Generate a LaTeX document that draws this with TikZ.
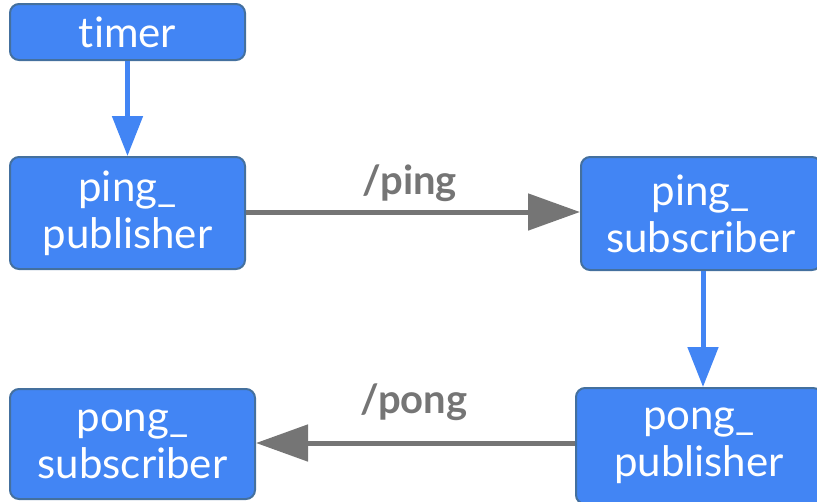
\documentclass[tikz,border=0pt]{standalone}
\usepackage{fontspec}
\setmainfont[Ligatures={NoCommon}]{Lato}
\usetikzlibrary{arrows.meta}
\definecolor{boxfill}{HTML}{4285F4}
\definecolor{boxline}{HTML}{44709E}
\definecolor{topicgray}{HTML}{757575}
\begin{document}
\begin{tikzpicture}[x=1pt,y=-1pt,
  nodebox/.style={draw=boxline, line width=2pt, fill=boxfill, rounded corners=9pt, text=white,
    font=\fontsize{42}{47}\selectfont, align=center, inner sep=0pt},
  bluearrow/.style={draw=boxfill, line width=5pt, -{Triangle[length=40pt,width=30pt]}},
  grayarrow/.style={draw=topicgray, line width=5pt, -{Triangle[length=52pt,width=36pt]}},
  topic/.style={text=topicgray, font=\bfseries\fontsize{40}{44}\selectfont, inner sep=0pt, anchor=base}]
\useasboundingbox (0,0) rectangle (817,501);
\clip (0,0) rectangle (817,501);
\node[nodebox, minimum width=235pt, minimum height=56pt] (timer) at (127.5,32) {timer};
\node[nodebox, minimum width=235pt, minimum height=112pt] (pingpub) at (127.5,213) {ping\_\\publisher};
\node[nodebox, minimum width=240pt, minimum height=113pt] (pingsub) at (701,213.5) {ping\_\\subscriber};
\node[nodebox, minimum width=246pt, minimum height=116pt] (pongpub) at (699,446) {pong\_\\publisher};
\node[nodebox, minimum width=245pt, minimum height=110pt] (pongsub) at (132.5,444) {pong\_\\subscriber};
\draw[bluearrow] (timer.south) -- (pingpub.north);
\draw[grayarrow] (pingpub.east |- 0,212) -- (pingsub.west |- 0,212);
\node[topic] (pinglbl) at (410,194) {/ping};
\draw[bluearrow] (pingsub.south -| 703,0) -- (pongpub.north -| 703,0);
\draw[grayarrow] (pongpub.west |- 0,443) -- (pongsub.east |- 0,443);
\node[topic] (ponglbl) at (414,413) {/pong};
\end{tikzpicture}
\end{document}
